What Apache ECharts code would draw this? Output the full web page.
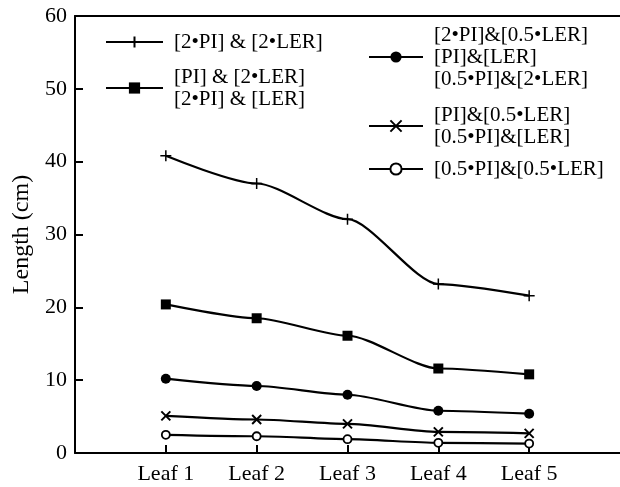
<!DOCTYPE html>
<html>
<head>
<meta charset="utf-8">
<script src="https://cdn.jsdelivr.net/npm/echarts@6/dist/echarts.min.js"></script>
<style>
  html, body { margin: 0; padding: 0; background: #fff; }
  #chart { width: 620px; height: 487px; }
</style>
</head>
<body>
<div id="chart"></div>
<script>
// leaf positions along the x axis
var categories = ['Leaf 1', 'Leaf 2', 'Leaf 3', 'Leaf 4', 'Leaf 5']
var yTicks = [0, 10, 20, 30, 40, 50, 60]

var plusNames = '[2•PI] & [2•LER]'
var squareNames = '[PI] & [2•LER]\n[2•PI] & [LER]'
var dotNames = '[2•PI]&[0.5•LER]\n[PI]&[LER]\n[0.5•PI]&[2•LER]'
var crossNames = '[PI]&[0.5•LER]\n[0.5•PI]&[LER]'
var ringNames = '[0.5•PI]&[0.5•LER]'

var plusValues = [40.8, 37.0, 32.1, 23.2, 21.6]
var squareValues = [20.4, 18.5, 16.1, 11.6, 10.8]
var dotValues = [10.2, 9.2, 8.0, 5.8, 5.4]
var crossValues = [5.1, 4.6, 4.0, 2.9, 2.7]
var ringValues = [2.5, 2.3, 1.9, 1.4, 1.3]

var serif = 'Liberation Serif'

function pts(values) {
  return values.map(function(v, i) { return [i + 1, v] })
}

function lineSeries(name, values, symbol, size, fill, bw) {
  return {
    name: name,
    type: 'line',
    data: pts(values),
    smooth: 0.25,
    smoothMonotone: 'x',
    symbol: symbol,
    symbolSize: size,
    showAllSymbol: true,
    lineStyle: { color: '#000', width: 2.2 },
    itemStyle: { color: fill, borderColor: '#000', borderWidth: bw },
    animation: false
  }
}

function legendAt(name, left, top, w) {
  return {
    data: [name],
    left: left,
    top: top,
    padding: 0,
    itemWidth: w,
    itemHeight: 14,
    selectedMode: false,
    textStyle: {
      fontFamily: serif,
      fontSize: 21,
      lineHeight: 22,
      color: '#000',
      padding: [0, 0, 0, 6]
    }
  }
}

var chart = echarts.init(document.getElementById('chart'))
chart.setOption({
  backgroundColor: '#fff',
  grid: { left: 75, right: 0, top: 16, bottom: 34, outerBoundsMode: 'none', containLabel: false },
  legend: [
    legendAt(plusNames, 105, 31, 57),
    legendAt(squareNames, 105, 66, 57),
    legendAt(dotNames, 368, 24, 54),
    legendAt(crossNames, 368, 104, 54),
    legendAt(ringNames, 368, 158, 54)
  ],
  xAxis: [{
    type: 'value',
    min: 0,
    max: 6,
    interval: 1,
    splitLine: { show: false },
    axisLine: { lineStyle: { color: '#000', width: 2 } },
    axisTick: {
      inside: true,
      length: 8,
      customValues: [1, 2, 3, 4, 5],
      lineStyle: { color: '#000', width: 2 }
    },
    axisLabel: {
      customValues: [1, 2, 3, 4, 5],
      formatter: function(v) { return categories[v - 1] || '' },
      fontFamily: serif,
      fontSize: 22,
      color: '#000',
      margin: 10
    }
  }, {
    // top frame line
    type: 'value',
    position: 'top',
    min: 0,
    max: 6,
    splitLine: { show: false },
    axisLine: { lineStyle: { color: '#000', width: 2 } },
    axisTick: { show: false },
    axisLabel: { show: false }
  }],
  yAxis: {
    type: 'value',
    min: yTicks[0],
    max: yTicks[yTicks.length - 1],
    interval: 10,
    name: 'Length (cm)',
    nameLocation: 'middle',
    nameGap: 41,
    nameTextStyle: { fontFamily: serif, fontSize: 24, color: '#000' },
    splitLine: { show: false },
    axisLine: { lineStyle: { color: '#000', width: 2 } },
    axisTick: { inside: true, length: 8, lineStyle: { color: '#000', width: 2 } },
    axisLabel: { fontFamily: serif, fontSize: 22, color: '#000', margin: 8 }
  },
  series: [
    lineSeries(plusNames, plusValues, 'path://M0,-1V1M-1,0H1', 11, 'none', 1.5),
    lineSeries(squareNames, squareValues, 'rect', 10, '#000', 0),
    lineSeries(dotNames, dotValues, 'circle', 10, '#000', 0),
    lineSeries(crossNames, crossValues, 'path://M-1,-1L1,1M-1,1L1,-1', 9, 'none', 2),
    lineSeries(ringNames, ringValues, 'circle', 8, '#fff', 1.8)
  ]
})
</script>
</body>
</html>
